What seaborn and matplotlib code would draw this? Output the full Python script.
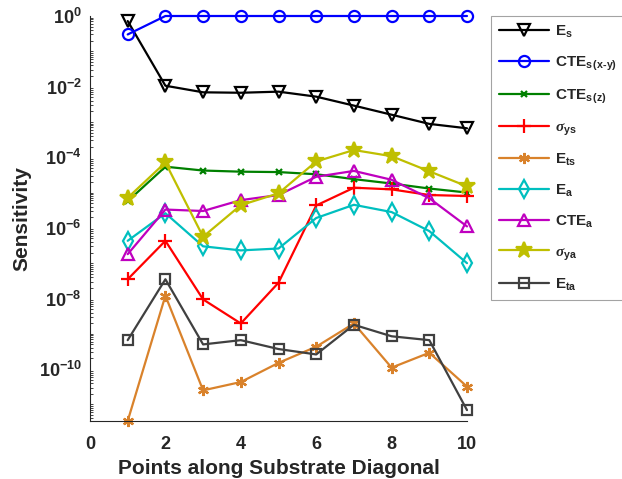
import matplotlib
matplotlib.use("Agg")
import matplotlib.pyplot as plt
import numpy as np
import pandas as pd
import seaborn as sns
from matplotlib.ticker import FixedLocator, FuncFormatter, LogLocator, NullFormatter

points = list(range(1, 11))

E_s = [0.72, 0.0106, 0.0069, 0.0067, 0.0072, 0.0052, 0.0029, 0.0016, 0.00088, 0.00066]
CTE_s_xy = [0.30, 1.0, 1.0, 1.0, 1.0, 1.0, 1.0, 1.0, 1.0, 1.0]
CTE_s_z = [5.7e-6, 5.4e-5, 4.2e-5, 3.9e-5, 3.8e-5, 3.3e-5, 2.4e-5, 1.8e-5, 1.3e-5, 1.0e-5]
sigma_ys = [3.5e-8, 4.3e-7, 9.4e-9, 1.96e-9, 2.8e-8, 4.3e-6, 1.37e-5, 1.23e-5, 8.5e-6, 8.0e-6]
E_ts = [3.4e-12, 1.2e-8, 2.5e-11, 4.3e-11, 1.5e-10, 4.3e-10, 1.96e-9, 1.1e-10, 2.9e-10, 3.2e-11]
E_a = [4.3e-7, 2.6e-6, 3.0e-7, 2.3e-7, 2.6e-7, 1.9e-6, 4.5e-6, 2.8e-6, 8.1e-7, 1.0e-7]
CTE_a = [1.8e-7, 3.3e-6, 3.0e-6, 6.1e-6, 8.5e-6, 2.8e-5, 4.1e-5, 2.3e-5, 6.9e-6, 1.1e-6]
sigma_ya = [7.1e-6, 7.1e-5, 5.6e-7, 4.4e-6, 9.5e-6, 7.6e-5, 1.6e-4, 1.07e-4, 4.0e-5, 1.5e-5]
E_ta = [6.6e-10, 3.5e-8, 5.0e-10, 6.6e-10, 3.7e-10, 2.6e-10, 1.8e-9, 8.5e-10, 6.6e-10, 6.9e-12]

labels = [
    r"$\mathbf{E_{s}}$",
    r"$\mathbf{CTE_{s\,(x\text{-}y)}}$",
    r"$\mathbf{CTE_{s\,(z)}}$",
    r"$\sigma_{\mathbf{ys}}$",
    r"$\mathbf{E_{ts}}$",
    r"$\mathbf{E_{a}}$",
    r"$\mathbf{CTE_{a}}$",
    r"$\sigma_{\mathbf{ya}}$",
    r"$\mathbf{E_{ta}}$",
]
series = [E_s, CTE_s_xy, CTE_s_z, sigma_ys, E_ts, E_a, CTE_a, sigma_ya, E_ta]

# (colour, marker, marker size, hollow marker)
styles = [
    ("black", "v", 9, True),
    ("#0000FF", "o", 8, True),
    ("#008000", "x", 5, False),
    ("#FF0000", "+", 10, False),
    ("#D9822B", (6, 2, 0), 8, False),
    ("#00BFBF", "d", 9, True),
    ("#BF00BF", "^", 9, True),
    ("#BFBF00", "*", 12, False),
    ("#404040", "s", 7, True),
]

sns.set_style("white")
plt.rcParams["font.family"] = ["Liberation Sans", "DejaVu Sans"]
plt.rcParams["font.weight"] = "bold"
plt.rcParams["mathtext.fontset"] = "custom"
plt.rcParams["mathtext.rm"] = "Liberation Sans"
plt.rcParams["mathtext.bf"] = "Liberation Sans:bold"
plt.rcParams["mathtext.it"] = "Liberation Serif:italic"

fig = plt.figure(figsize=(6.22, 4.79), dpi=100)
ax = fig.add_axes([90 / 622, 1 - 421 / 479, (467 - 90) / 622, (421 - 16) / 479])

for lab, vals, (col, mk, size, hollow) in zip(labels, series, styles):
    df = pd.DataFrame({"point": points, "value": vals})
    sns.lineplot(data=df, x="point", y="value", ax=ax, label=lab,
                 color=col, linewidth=1.6, linestyle="-", dashes=False,
                 marker=mk, markersize=size, markeredgewidth=1.6,
                 markeredgecolor=col,
                 markerfacecolor="none" if hollow else col, clip_on=False)

ax.set_yscale("log")
ax.set_xlim(0, 10)
ax.set_ylim(10 ** -11.47, 1.0)
ax.set_xticks([0, 2, 4, 6, 8, 10])
ax.yaxis.set_major_locator(FixedLocator([10.0 ** e for e in range(0, -11, -2)]))
ax.yaxis.set_major_formatter(FuncFormatter(
    lambda v, p: r"$\mathbf{10^{%d}}$" % int(round(np.log10(v)))))
ax.yaxis.set_minor_locator(LogLocator(base=10, subs=np.arange(1, 10), numticks=30))
ax.yaxis.set_minor_formatter(NullFormatter())

for s in ["top", "right"]:
    ax.spines[s].set_visible(False)
for s in ["left", "bottom"]:
    ax.spines[s].set_color("#262626")
    ax.spines[s].set_linewidth(0.8)
ax.tick_params(axis="both", which="major", direction="in", length=4, width=0.8,
               color="#262626", labelsize=13, labelcolor="#262626")
ax.tick_params(axis="y", which="minor", direction="in", length=2, width=0.6,
               color="#262626", left=True)
ax.tick_params(axis="x", which="major", pad=11)
ax.tick_params(axis="y", which="major", pad=6)
for t in ax.get_xticklabels():
    t.set_fontweight("bold")

ax.set_xlabel("Points along Substrate Diagonal", fontsize=15, fontweight="bold",
              color="#262626", labelpad=4)
ax.set_ylabel("Sensitivity", fontsize=15, fontweight="bold", color="#262626",
              labelpad=5)

leg = ax.legend(loc="upper left", bbox_to_anchor=(491 / 622, 1 - 16 / 479),
                bbox_transform=fig.transFigure, borderaxespad=0, fontsize=11,
                handlelength=3.3, labelspacing=0.95, frameon=True, fancybox=False,
                borderpad=0.5, handletextpad=0.4)
leg.get_frame().set_edgecolor("#8c8c8c")
leg.get_frame().set_linewidth(0.8)

fig.savefig("out.png", dpi=100)
